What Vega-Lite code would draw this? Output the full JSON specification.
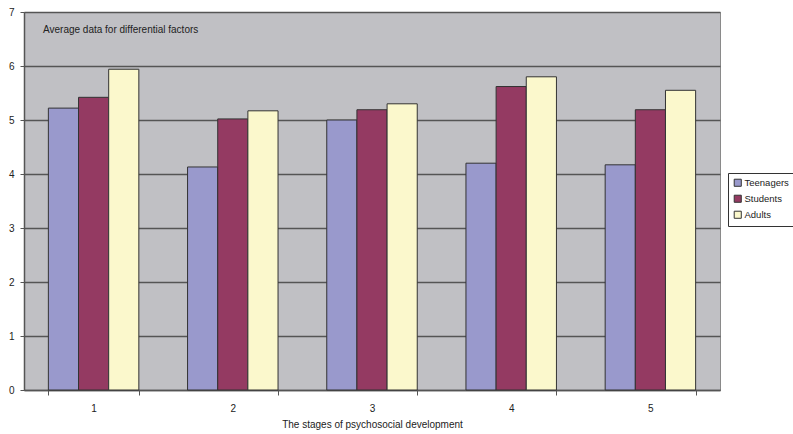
{
  "$schema": "https://vega.github.io/schema/vega-lite/v6.json",
  "autosize": {"type": "none"},
  "padding": {"left": 24, "top": 12, "right": 73, "bottom": 44},
  "width": 696,
  "height": 378,
  "background": "white",
  "title": {
    "text": "Average data for differential factors",
    "anchor": "start",
    "orient": "top",
    "frame": "group",
    "dx": 19,
    "dy": 37,
    "baseline": "middle",
    "font": "Liberation Sans",
    "fontSize": 10,
    "fontWeight": "normal",
    "color": "#222222"
  },
  "data": {
    "values": [
      {"stage": "1", "group": "Teenagers", "value": 5.22},
      {"stage": "1", "group": "Students", "value": 5.42},
      {"stage": "1", "group": "Adults", "value": 5.94},
      {"stage": "2", "group": "Teenagers", "value": 4.13},
      {"stage": "2", "group": "Students", "value": 5.02},
      {"stage": "2", "group": "Adults", "value": 5.17},
      {"stage": "3", "group": "Teenagers", "value": 5.0},
      {"stage": "3", "group": "Students", "value": 5.19},
      {"stage": "3", "group": "Adults", "value": 5.3},
      {"stage": "4", "group": "Teenagers", "value": 4.2},
      {"stage": "4", "group": "Students", "value": 5.62},
      {"stage": "4", "group": "Adults", "value": 5.8},
      {"stage": "5", "group": "Teenagers", "value": 4.17},
      {"stage": "5", "group": "Students", "value": 5.19},
      {"stage": "5", "group": "Adults", "value": 5.55}
    ]
  },
  "config": {
    "font": "Liberation Sans",
    "view": {"fill": "#C0C0C4", "stroke": "#8a8a8a", "strokeWidth": 1}
  },
  "mark": {"type": "bar", "stroke": "#333333", "strokeWidth": 1},
  "encoding": {
    "x": {
      "field": "stage",
      "type": "nominal",
      "scale": {"paddingInner": 0.35, "paddingOuter": 0.175},
      "axis": {
        "title": "The stages of psychosocial development",
        "titleFontSize": 10,
        "titleFontWeight": "normal",
        "titleColor": "#222222",
        "titlePadding": 6,
        "labelAngle": 0,
        "labelFontSize": 10,
        "labelColor": "#222222",
        "labelPadding": 8,
        "tickBand": "extent",
        "tickSize": 5,
        "tickColor": "#555555",
        "domainColor": "#555555",
        "domainWidth": 1.5
      }
    },
    "xOffset": {
      "field": "group",
      "type": "nominal",
      "sort": ["Teenagers", "Students", "Adults"],
      "scale": {"paddingInner": 0, "paddingOuter": 0}
    },
    "y": {
      "field": "value",
      "type": "quantitative",
      "scale": {"domain": [0, 7], "nice": false},
      "axis": {
        "title": null,
        "values": [0, 1, 2, 3, 4, 5, 6, 7],
        "labelOverlap": false,
        "labelFontSize": 10,
        "labelColor": "#222222",
        "labelPadding": 6,
        "tickSize": 4,
        "tickColor": "#555555",
        "domainColor": "#555555",
        "domainWidth": 1.5,
        "grid": true,
        "gridColor": "#555555",
        "gridWidth": 1.5
      }
    },
    "color": {
      "field": "group",
      "type": "nominal",
      "sort": ["Teenagers", "Students", "Adults"],
      "scale": {
        "domain": ["Teenagers", "Students", "Adults"],
        "range": ["#9999CC", "#943A62", "#FBF8CC"]
      },
      "legend": {
        "title": null,
        "orient": "none",
        "legendX": 704,
        "legendY": 161,
        "symbolType": "square",
        "symbolSize": 50,
        "symbolStrokeColor": "#333333",
        "symbolStrokeWidth": 1,
        "labelFontSize": 9.5,
        "labelColor": "#222222",
        "labelOffset": 2,
        "rowPadding": 4,
        "padding": 5,
        "strokeColor": "#333333",
        "fillColor": "white"
      }
    }
  }
}
